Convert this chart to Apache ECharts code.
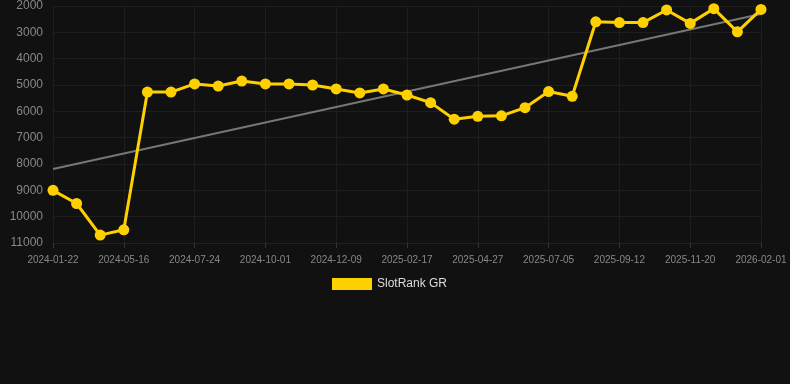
<!DOCTYPE html>
<html>
<head>
<meta charset="utf-8">
<script src="https://cdn.jsdelivr.net/npm/echarts@6/dist/echarts.min.js"></script>
<style>
html,body{margin:0;padding:0;background:#111111;}
#chart{width:790px;height:384px;}
</style>
</head>
<body>
<div id="chart"></div>
<script>
const categories = [
  "2024-01-22","2024-02-19","2024-03-18","2024-05-16","2024-06-08","2024-07-01",
  "2024-07-24","2024-08-16","2024-09-08","2024-10-01","2024-10-24","2024-11-16",
  "2024-12-09","2025-01-01","2025-01-24","2025-02-17","2025-03-12","2025-04-04",
  "2025-04-27","2025-05-20","2025-06-12","2025-07-05","2025-07-28","2025-08-20",
  "2025-09-12","2025-10-05","2025-10-28","2025-11-20","2025-12-13","2026-01-09",
  "2026-02-01"
];
const rankValues = [
  9000, 9500, 10700, 10500, 5270, 5270, 4960, 5040, 4850, 4960, 4960, 5000,
  5150, 5300, 5150, 5380, 5670, 6300, 6190, 6170, 5860, 5250, 5430, 2600,
  2630, 2630, 2150, 2660, 2100, 2980, 2130
];
const trendStart = 8190;
const trendEnd = 2300;
const yTicks = { min: 2000, max: 11000, interval: 1000 };

const trendData = [[categories[0], trendStart], [categories[categories.length - 1], trendEnd]];

const chart = echarts.init(document.getElementById('chart'));
chart.setOption({
  backgroundColor: '#111111',
  animation: false,
  grid: { left: 53, right: 29, top: 6, bottom: 141, containLabel: false },
  legend: {
    top: 273,
    left: 327,
    icon: 'rect',
    itemWidth: 40,
    itemHeight: 12,
    itemGap: 10,
    data: ['SlotRank GR'],
    textStyle: { color: '#dddddd', fontSize: 12, fontFamily: 'Liberation Sans, Arial, sans-serif' }
  },
  xAxis: {
    type: 'category',
    data: categories,
    boundaryGap: false,
    axisLine: { show: true, lineStyle: { color: '#222222' } },
    axisTick: { show: true, alignWithLabel: true, interval: 2, length: 5, lineStyle: { color: '#333333' } },
    axisLabel: {
      interval: 2,
      color: '#888888',
      fontSize: 10,
      margin: 12,
      fontFamily: 'Liberation Sans, Arial, sans-serif'
    },
    splitLine: { show: true, interval: 2, lineStyle: { color: '#1e1e1e' } }
  },
  yAxis: {
    type: 'value',
    inverse: true,
    min: yTicks.min,
    max: yTicks.max,
    interval: yTicks.interval,
    axisLine: { show: false },
    axisTick: { show: false },
    axisLabel: {
      color: '#888888', fontSize: 12, margin: 10,
      fontFamily: 'Liberation Sans, Arial, sans-serif',
      formatter: function (v) { return String(v); }
    },
    splitLine: { lineStyle: { color: '#1e1e1e' } }
  },
  series: [
    {
      name: 'Trend',
      type: 'line',
      data: trendData,
      symbol: 'none',
      lineStyle: { color: '#777777', width: 2 },
      z: 1,
      silent: true
    },
    {
      name: 'SlotRank GR',
      type: 'line',
      data: rankValues,
      symbol: 'circle',
      symbolSize: 11,
      itemStyle: { color: '#FFD000' },
      lineStyle: { color: '#FFD000', width: 3 },
      z: 3
    }
  ]
});
</script>
</body>
</html>
